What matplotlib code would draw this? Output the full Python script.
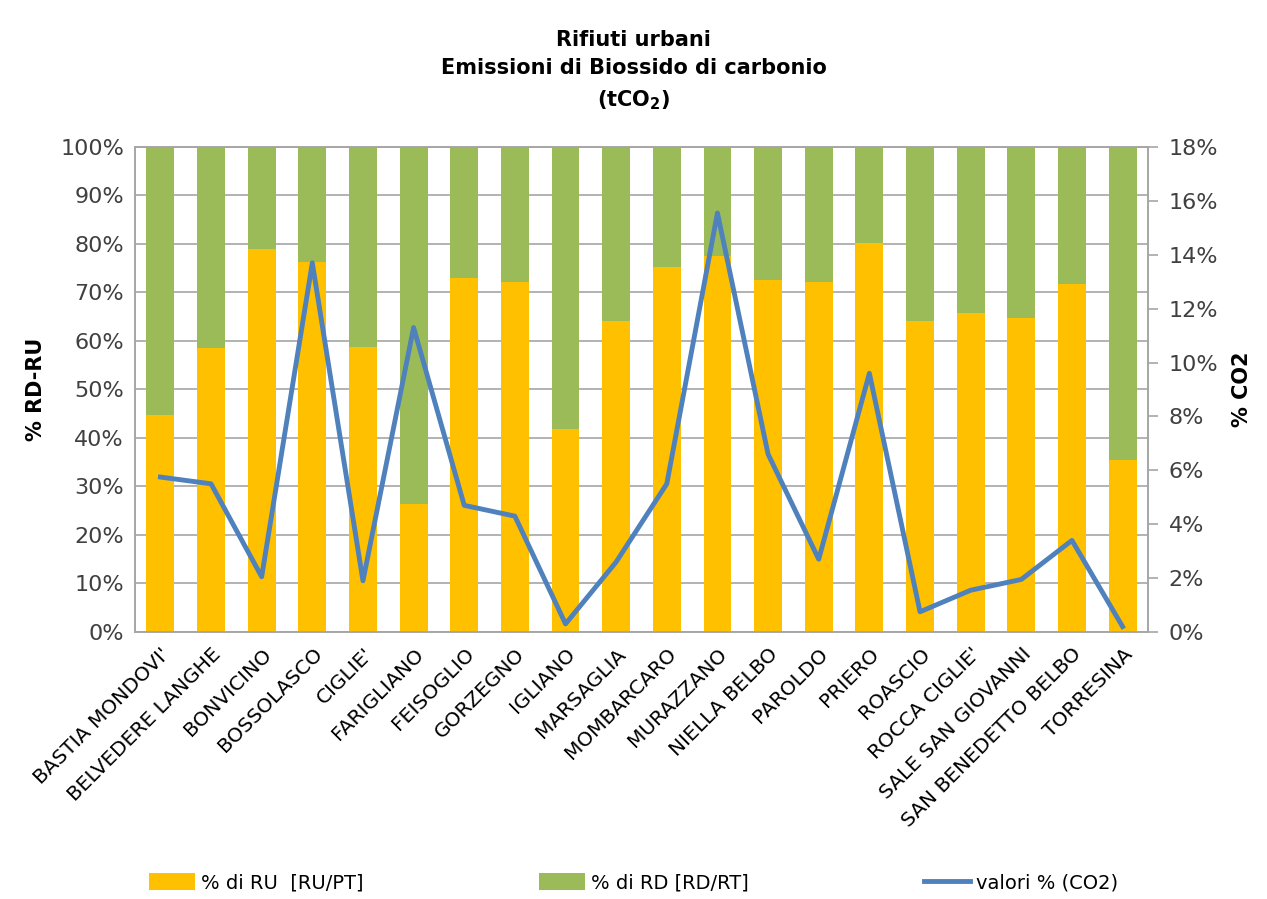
import matplotlib.pyplot as plt
from matplotlib.ticker import PercentFormatter

comuni = ["BASTIA MONDOVI'", "BELVEDERE LANGHE", "BONVICINO", "BOSSOLASCO", "CIGLIE'",
          "FARIGLIANO", "FEISOGLIO", "GORZEGNO", "IGLIANO", "MARSAGLIA", "MOMBARCARO",
          "MURAZZANO", "NIELLA BELBO", "PAROLDO", "PRIERO", "ROASCIO", "ROCCA CIGLIE'",
          "SALE SAN GIOVANNI", "SAN BENEDETTO BELBO", "TORRESINA"]
ru = [44.7, 58.6, 79.0, 76.3, 58.8, 26.4, 73.0, 72.2, 41.9, 64.1, 75.3,
      77.5, 72.6, 72.2, 80.2, 64.1, 65.8, 64.7, 71.8, 35.5]
rd = [100 - v for v in ru]
co2 = [5.75, 5.5, 2.05, 13.7, 1.9, 11.3, 4.7, 4.3, 0.3, 2.6, 5.5,
       15.55, 6.6, 2.7, 9.6, 0.75, 1.55, 1.95, 3.4, 0.2]

YELLOW = "#FFC000"
GREEN = "#9BBB59"
BLUE = "#4F81BD"
GRID = "#A6A6A6"

plt.rcParams['font.family'] = ['DejaVu Sans']
fig = plt.figure(figsize=(12.67, 8.99), dpi=100)
ax = fig.add_axes([0.1066, 0.297, 0.7994, 0.5395])
x = range(len(comuni))

b1 = ax.bar(x, ru, width=0.55, color=YELLOW, label="% di RU  [RU/PT]", zorder=2)
b2 = ax.bar(x, rd, width=0.55, bottom=ru, color=GREEN, label="% di RD [RD/RT]", zorder=2)
ax.set_ylim(0, 100)
ax.set_xlim(-0.5, len(comuni) - 0.5)
ax.set_yticks(range(0, 101, 10))
ax.yaxis.set_major_formatter(PercentFormatter(decimals=0))
ax.grid(axis='y', color=GRID, linewidth=1.2, zorder=0)
ax.tick_params(axis='y', length=0, labelsize=16, colors="#404040", pad=8)
ax.tick_params(axis='x', length=0, labelsize=14.5, pad=9)
ax.set_xticks(list(x))
ax.set_xticklabels(comuni, rotation=45, ha='right', rotation_mode='anchor')
for s in ax.spines.values():
    s.set_color(GRID)
    s.set_linewidth(1.2)
ax.set_ylabel("% RD-RU", fontsize=15, fontweight='bold', labelpad=10)

ax2 = ax.twinx()
l1, = ax2.plot(x, co2, color=BLUE, linewidth=3.5, label="valori % (CO2)", zorder=3)
ax2.set_ylim(0, 18)
ax2.set_yticks(range(0, 19, 2))
ax2.yaxis.set_major_formatter(PercentFormatter(decimals=0))
ax2.tick_params(axis='y', length=7, color=GRID, width=1.2, labelsize=16, labelcolor="#404040", pad=8)
for s in ax2.spines.values():
    s.set_color(GRID)
    s.set_linewidth(1.2)
ax2.set_ylabel("% CO2", fontsize=15, fontweight='bold', labelpad=10)

fig.text(0.5, 0.967, "Rifiuti urbani\nEmissioni di Biossido di carbonio\n(tCO$_\\mathregular{2}$)",
         ha='center', va='top', fontsize=15, fontweight='bold', linespacing=1.55)

fig.legend(handles=[b1, b2, l1], loc='lower center', bbox_to_anchor=(0.5, -0.012),
           ncol=3, frameon=False, fontsize=14, columnspacing=9, handlelength=2.4,
           handleheight=1.0, handletextpad=0.3)

fig.savefig("out.png", dpi=100)
